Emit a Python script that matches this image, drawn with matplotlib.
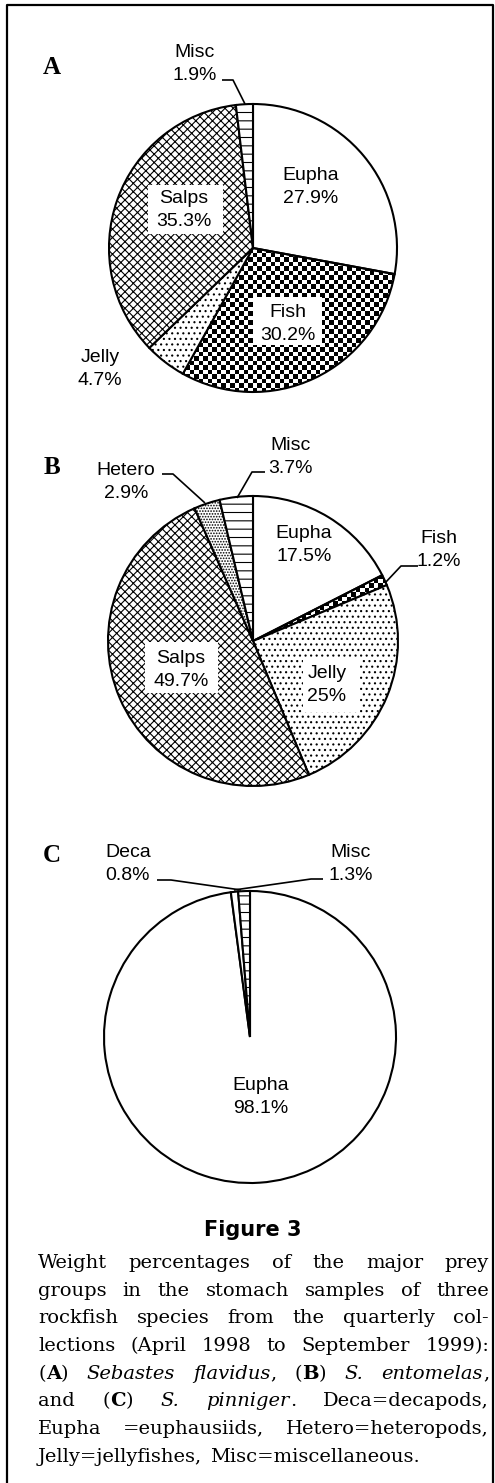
import re
import numpy as np
import matplotlib.pyplot as plt
from matplotlib.patches import Rectangle
from matplotlib.font_manager import FontProperties

W, H = 495, 1483

# --- data (weight % of prey groups, clockwise from 12 o'clock) ---
a_groups = ['Eupha', 'Fish', 'Jelly', 'Salps', 'Misc']
a_pct = [27.9, 30.2, 4.7, 35.3, 1.9]

b_groups = ['Eupha', 'Fish', 'Jelly', 'Salps', 'Hetero', 'Misc']
b_pct = [17.5, 1.2, 25.0, 49.7, 2.9, 3.7]

c_groups = ['Eupha', 'Deca', 'Misc']
c_pct = [98.1, 0.8, 1.3]

caption_title = 'Figure 3'
caption_lines = [
    'Weight percentages of the major prey',
    'groups in the stomach samples of three',
    'rockfish species from the quarterly col-',
    'lections (April 1998 to September 1999):',
    '(**A**) _Sebastes_ _flavidus_, (**B**) _S._ _entomelas_,',
    'and (**C**) _S._ _pinniger_. Deca=decapods,',
    'Eupha =euphausiids, Hetero=heteropods,',
    'Jelly=jellyfishes, Misc=miscellaneous.',
]

# --- styling / layout (pixel coords, y measured from top) ---
hatch_for = {'Eupha': '', 'Fish': '', 'Jelly': '...', 'Salps': 'xxxx',
             'Misc': '--', 'Hetero': '......', 'Deca': ''}
LABEL_FONT = 'Liberation Sans'
LINE_GAP = 23

panels = [
    dict(letter='A', letter_xy=(52, 67), groups=a_groups, pct=a_pct,
         center=(253, 248), r=144,
         labels={'Misc': (195, 57), 'Eupha': (311, 180), 'Salps': (184, 203),
                 'Fish': (288, 317), 'Jelly': (100, 362)},
         boxes=[(148, 185, 223, 234), (253, 297, 322, 345)],
         leaders=[[(222, 80), (233, 80), (245, 104)]]),
    dict(letter='B', letter_xy=(52, 467), groups=b_groups, pct=b_pct,
         center=(253, 641), r=145,
         labels={'Misc': (290, 450), 'Hetero': (126, 475), 'Eupha': (304, 538),
                 'Fish': (439, 543), 'Salps': (181, 663), 'Jelly': (327, 678)},
         boxes=[(145, 642, 218, 693), (303, 658, 360, 712)],
         leaders=[[(265, 472), (252, 472), (237, 498)],
                  [(162, 474), (173, 474), (205, 503)],
                  [(418, 566), (401, 566), (385, 583)]]),
    dict(letter='C', letter_xy=(52, 855), groups=c_groups, pct=c_pct,
         center=(250, 1037), r=146,
         labels={'Deca': (128, 857), 'Misc': (351, 857), 'Eupha': (261, 1090)},
         boxes=[],
         leaders=[[(157, 880), (171, 880), (241, 890)],
                  [(323, 879), (311, 879), (234, 890)]]),
]

plt.rcParams['hatch.linewidth'] = 0.8

fig = plt.figure(figsize=(W / 100, H / 100), dpi=100)
ax = fig.add_axes([0, 0, 1, 1])
ax.set_xlim(0, W)
ax.set_ylim(0, H)


def checker(ax, wedge, cx, cy, r, cell=4.5):
    n = int(np.ceil(2 * r / cell))
    ii, jj = np.indices((n, n))
    board = ((ii + jj) % 2).astype(float)
    im = ax.imshow(board, cmap='gray', vmin=0, vmax=1, interpolation='nearest',
                   extent=(cx - r, cx - r + n * cell, cy - r, cy - r + n * cell),
                   origin='lower', zorder=0.9)
    im.set_clip_path(wedge)


for p in panels:
    cx, cy = p['center']
    cyd = H - cy
    faces = ['none' if g == 'Fish' else 'white' for g in p['groups']]
    hatches = [hatch_for[g] for g in p['groups']]
    wedges, _ = ax.pie(p['pct'], colors=faces, hatch=hatches, startangle=90,
                       counterclock=False, center=(cx, cyd), radius=p['r'],
                       frame=True, wedgeprops=dict(edgecolor='black', linewidth=1.5))
    for g, w in zip(p['groups'], wedges):
        if g == 'Fish':
            checker(ax, w, cx, cyd, p['r'])

    for x0, y0, x1, y1 in p['boxes']:
        ax.add_patch(Rectangle((x0, H - y1), x1 - x0, y1 - y0, facecolor='white',
                               edgecolor='none', zorder=2))

    for g, v in zip(p['groups'], p['pct']):
        x, yb = p['labels'][g]
        ax.text(x, H - yb, g, ha='center', va='baseline', fontsize=14,
                family=LABEL_FONT, zorder=3)
        ax.text(x, H - yb - LINE_GAP, f'{v:g}%', ha='center', va='baseline',
                fontsize=14, family=LABEL_FONT, zorder=3)

    for pts in p['leaders']:
        xs = [q[0] for q in pts]
        ys = [H - q[1] for q in pts]
        ax.plot(xs, ys, color='black', lw=1.2, solid_capstyle='butt', zorder=3)

    lx, ly = p['letter_xy']
    ax.text(lx, H - ly, p['letter'], ha='center', va='center', fontsize=18,
            family='Liberation Serif', fontweight='bold')

# caption
ax.text(253, H - 1230, caption_title, ha='center', va='center', fontsize=15,
        family='DejaVu Sans', fontweight='bold')

renderer = fig.canvas.get_renderer()
CAP_FONT = 'DejaVu Serif'
CAP_SIZE = 14
cap_left, cap_right = 38, 489
token_re = re.compile(r'\*\*(.+?)\*\*|_(.+?)_|([^*_]+)')


def advance(s, weight, style):
    # pen advance of a run: ink width of 'H<s>H' minus ink width of 'HH'
    prop = FontProperties(family=CAP_FONT, size=CAP_SIZE, weight=weight, style=style)
    w1 = renderer.get_text_width_height_descent('H' + s + 'H', prop, ismath=False)[0]
    w0 = renderer.get_text_width_height_descent('HH', prop, ismath=False)[0]
    return w1 - w0


def runs_of(word):
    out = []
    for m in token_re.finditer(word):
        if m.group(1):
            out.append((m.group(1), 'bold', 'normal'))
        elif m.group(2):
            out.append((m.group(2), 'normal', 'italic'))
        else:
            out.append((m.group(3), 'normal', 'normal'))
    return out


space_w = advance(' ', 'normal', 'normal')
for i, line in enumerate(caption_lines):
    yb = H - (1268 + i * 27.7)
    words = []
    for word in line.split(' '):
        runs = [(s, wt, st, advance(s, wt, st)) for s, wt, st in runs_of(word)]
        words.append((runs, sum(r[3] for r in runs)))
    total = sum(w for _, w in words)
    last = i == len(caption_lines) - 1
    gap = space_w * 1.3 if last else (cap_right - cap_left - total) / (len(words) - 1)
    x = cap_left
    for runs, wsum in words:
        for s, wt, st, adv in runs:
            ax.text(x, yb, s, ha='left', va='baseline', fontsize=CAP_SIZE,
                    family=CAP_FONT, fontweight=wt, fontstyle=st)
            x += adv
        x += gap

# frame
ax.plot([7, 7, 493, 493], [-5, H - 5, H - 5, -5], color='black', lw=1.6)

ax.set_xlim(0, W)
ax.set_ylim(0, H)
ax.set_aspect('auto')
ax.axis('off')
fig.savefig('out.png', dpi=100, facecolor='white')
